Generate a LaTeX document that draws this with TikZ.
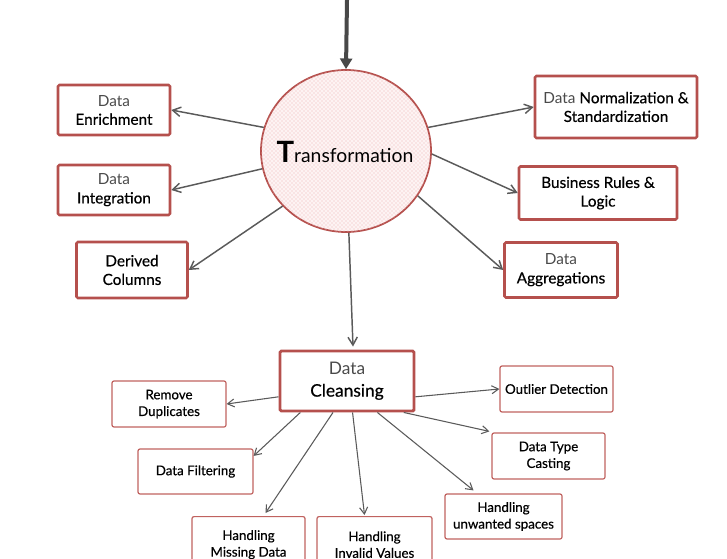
\documentclass[tikz,border=0pt]{standalone}
\usepackage{fontspec}
\setmainfont{Lato}
\newfontfamily\heavy{Lato}[FakeBold=0.5]
\usetikzlibrary{shapes.geometric,arrows.meta,calc,patterns}
\definecolor{boxred}{HTML}{B5504D}
\definecolor{lightred}{HTML}{C0625F}
\definecolor{pinkfill}{HTML}{FDF3F3}
\definecolor{dotred}{HTML}{F0B4B4}
\definecolor{arrowgray}{HTML}{5A5A5A}
\definecolor{datagray}{HTML}{4A4A4A}
\tikzset{
  bx/.style args={#1/#2}{minimum width=#1*0.75pt, minimum height=#2*0.75pt},
  mainbox/.style={draw=boxred, line width=1.9pt, rounded corners=1pt, align=center, inner sep=2pt, font=\fontsize{11.5}{14}\selectfont},
  subbox/.style={draw=lightred, line width=0.9pt, rounded corners=1.5pt, align=center, inner sep=2pt, font=\heavy\fontsize{10}{12.5}\selectfont},
  conn/.style={draw=arrowgray, line width=1.1pt, -{Straight Barb[length=6pt,width=7pt]}},
  subconn/.style={draw=arrowgray, line width=0.8pt, -{Straight Barb[length=5pt,width=6pt]}},
}
\newcommand{\dw}[1]{{\color{datagray}#1}}
\newcommand{\hv}[1]{{\heavy #1}}
\begin{document}
\begin{tikzpicture}[x=0.75pt,y=-0.75pt]
\useasboundingbox (0,0) rectangle (727,559);
% central circle
\node[ellipse, draw=boxred, line width=1.3pt, fill=pinkfill, postaction={pattern=crosshatch dots, pattern color=dotred}, minimum width=170*0.75pt, minimum height=162*0.75pt, inner sep=0pt] (circ) at (346,151) {};
\node[font=\fontsize{14.5}{17}\selectfont] (ttl) at (345,152) {{\fontsize{22}{22}\selectfont\bfseries T}ransformation};
\coordinate (top) at (347,0);
\draw[draw=arrowgray!80!black, line width=3pt, -{Triangle[length=8pt,width=9pt]}] (top) -- (circ.north);
% left boxes
\node[mainbox, bx=112/50] (enr) at (114,110) {\dw{Data}\\\hv{Enrichment}};
\node[mainbox, bx=112/50] (int) at (114,190) {\dw{Data}\\\hv{Integration}};
\node[mainbox, bx=111/56] (der) at (132,270) {\hv{Derived}\\\hv{Columns}};
% right boxes
\node[mainbox, bx=162/62] (nor) at (616,107) {\dw{Data} \hv{Normalization \&}\\\hv{Standardization}};
\node[mainbox, bx=158/53] (bus) at (598,193) {\hv{Business Rules \&}\\\hv{Logic}};
\node[mainbox, bx=113/55] (agg) at (561,270) {\dw{Data}\\\hv{Aggregations}};
% cleansing
\node[mainbox, line width=2.2pt, bx=134/60, font=\fontsize{13}{16.5}\selectfont] (cln) at (347,381) {\dw{Data}\\\hv{Cleansing}};
% sub boxes
\node[subbox, bx=114/46] (rem) at (169,404) {Remove\\Duplicates};
\node[subbox, bx=115/45] (flt) at (195.5,471.5) {Data Filtering};
\node[subbox, bx=113/56, anchor=north] (mis) at (248.5,516) {Handling\\Missing Data};
\node[subbox, bx=115/56, anchor=north] (inv) at (374.5,516) {Handling\\Invalid Values};
\node[subbox, bx=113/46] (out) at (556.5,389) {Outlier Detection};
\node[subbox, bx=113/46] (cast) at (548.5,456) {Data Type\\Casting};
\node[subbox, bx=117/45] (unw) at (503.5,516.5) {Handling\\unwanted spaces};
% connectors from circle
\draw[conn] (circ.164) -- (enr.east);
\draw[conn] (circ.192) -- (int.east);
\draw[conn] (circ.221) -- (der.east);
\draw[conn] (circ.16) -- (nor.west);
\draw[conn] (circ.-2) -- (bus.west);
\draw[conn] (circ.-32) -- (agg.west);
\draw[conn] (circ.-88) -- ($(cln.north)+(6,-3)$);
% connectors from cleansing
\draw[subconn] (cln.193) -- (rem.east);
\draw[subconn] (cln.214) -- (flt.15);
\draw[subconn] (cln.246) -- ($(mis.north)+(17,-3)$);
\draw[subconn] (cln.-80) -- ($(inv.north)+(-10,-1)$);
\draw[subconn] (cln.-13) -- (out.west);
\draw[subconn] (cln.-29) -- ($(cast.north west)+(-2,-1)$);
\draw[subconn] (cln.-46) -- ($(unw.north)+(-30,-3)$);
\end{tikzpicture}
\end{document}
